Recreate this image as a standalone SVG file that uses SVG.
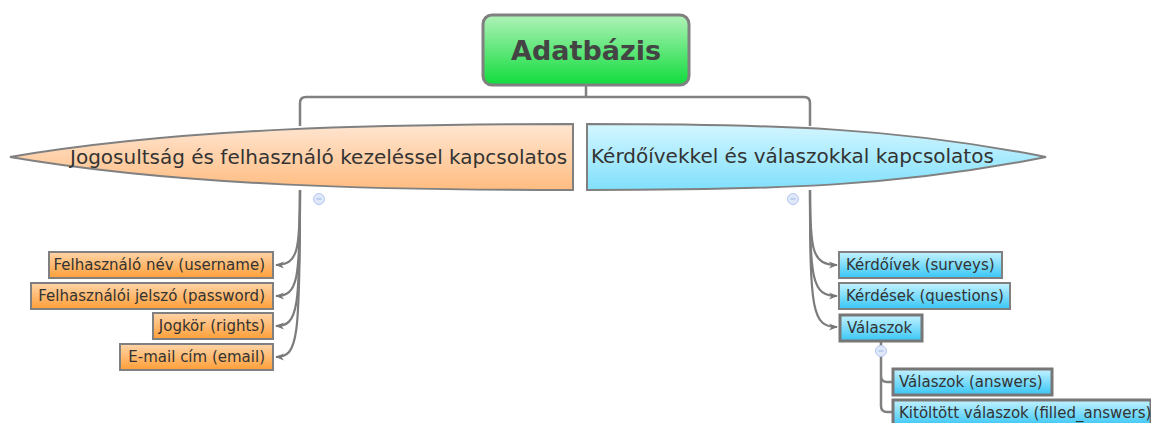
<svg xmlns="http://www.w3.org/2000/svg" width="1151" height="423" viewBox="0 0 1151 423">
<defs>
<linearGradient id="gRoot" x1="0" y1="0" x2="0" y2="1"><stop offset="0" stop-color="#b0f2b8"/><stop offset="1" stop-color="#10dc3c"/></linearGradient>
<linearGradient id="gOrL" x1="0" y1="0" x2="0" y2="1"><stop offset="0" stop-color="#ffe6d2"/><stop offset="1" stop-color="#ffbc80"/></linearGradient>
<linearGradient id="gBlL" x1="0" y1="0" x2="0" y2="1"><stop offset="0" stop-color="#d4f6ff"/><stop offset="1" stop-color="#80e0fc"/></linearGradient>
<linearGradient id="gOr" x1="0" y1="0" x2="0" y2="1"><stop offset="0" stop-color="#ffd4a8"/><stop offset="1" stop-color="#ff9f38"/></linearGradient>
<linearGradient id="gBl" x1="0" y1="0" x2="0" y2="1"><stop offset="0" stop-color="#c4f2ff"/><stop offset="1" stop-color="#38c6f6"/></linearGradient>
<marker id="arr" viewBox="0 0 10 10" refX="9" refY="5" markerWidth="9" markerHeight="9" orient="auto" markerUnits="userSpaceOnUse"><path d="M0,1 L10,5 L0,9 L3,5 Z" fill="#777"/></marker>
</defs>
<style>
text{font-family:"DejaVu Sans","Liberation Sans",sans-serif;fill:#333}
.conn{fill:none;stroke:#808080;stroke-width:2.5}
.thin{fill:none;stroke:#7c7c7c;stroke-width:2.2}
.box{stroke:#808080;stroke-width:2}
.sel{stroke:#777;stroke-width:3}
.leaf{font-size:15px}
.mid{font-size:20px}
.tog{fill:#dfe8fb;stroke:#b4c8f0;stroke-width:1}
.togm{stroke:#9bb2e0;stroke-width:1}
</style>
<g id="connectors">
<path class="conn" d="M586,85 V97 M306,97 H804 Q810,97 810,103 V126 M306,97 Q300,97 300,103 V126"/>
<path class="thin" marker-end="url(#arr)" d="M300,190 C300,250 298,265 276,265"/>
<path class="thin" marker-end="url(#arr)" d="M300,190 C300,280 298,296 276,296"/>
<path class="thin" marker-end="url(#arr)" d="M300,190 C300,310 298,326 276,326"/>
<path class="thin" marker-end="url(#arr)" d="M300,190 C300,340 298,357 276,357"/>
<path class="thin" marker-end="url(#arr)" d="M810,190 C810,250 812,265 837,265"/>
<path class="thin" marker-end="url(#arr)" d="M810,190 C810,280 812,296 837,296"/>
<path class="thin" marker-end="url(#arr)" d="M810,190 C810,310 812,327 837,327"/>
<path class="conn" d="M881,342 V406 Q881,412 887,412 H893 M881,376 Q881,382 887,382 H893"/>
</g>
<g id="root">
<rect x="483" y="15" width="206" height="70" rx="9" fill="url(#gRoot)" stroke="#808080" stroke-width="3"/>
<text x="586" y="60" text-anchor="middle" font-size="27" font-weight="bold" style="fill:#444">Adatbázis</text>
</g>
<g id="n-jog">
<path class="box" fill="url(#gOrL)" d="M10,157 C180,128 380,124 573,124 L573,190 C380,190 180,186 10,157 Z"/>
<text class="mid" x="70" y="164">Jogosultság és felhasználó kezeléssel kapcsolatos</text>
<circle class="tog" cx="319" cy="199" r="5.5"/><path class="togm" d="M316.5,199 H321.5"/>
</g>
<g id="n-kerd">
<path class="box" fill="url(#gBlL)" d="M587,124 C780,124 900,128 1046,157 C900,186 780,190 587,190 Z"/>
<text class="mid" x="591" y="163">Kérdőívekkel és válaszokkal kapcsolatos</text>
<circle class="tog" cx="793" cy="199" r="5.5"/><path class="togm" d="M790.5,199 H795.5"/>
</g>
<g id="n-username">
<rect class="box" x="49" y="252" width="224" height="26" fill="url(#gOr)"/>
<text class="leaf" x="265" y="270" text-anchor="end">Felhasználó név (username)</text>
</g>
<g id="n-password">
<rect class="box" x="31" y="283" width="242" height="26" fill="url(#gOr)"/>
<text class="leaf" x="265" y="301" text-anchor="end">Felhasználói jelszó (password)</text>
</g>
<g id="n-rights">
<rect class="box" x="153" y="313" width="120" height="26" fill="url(#gOr)"/>
<text class="leaf" x="265" y="331" text-anchor="end">Jogkör (rights)</text>
</g>
<g id="n-email">
<rect class="box" x="120" y="344" width="153" height="26" fill="url(#gOr)"/>
<text class="leaf" x="265" y="362" text-anchor="end">E-mail cím (email)</text>
</g>
<g id="n-surveys">
<rect class="box" x="839" y="252" width="163" height="26" fill="url(#gBl)"/>
<text class="leaf" x="846" y="270">Kérdőívek (surveys)</text>
</g>
<g id="n-questions">
<rect class="box" x="839" y="283" width="171" height="26" fill="url(#gBl)"/>
<text class="leaf" x="846" y="301">Kérdések (questions)</text>
</g>
<g id="n-valaszok">
<rect class="sel" x="840" y="315" width="82" height="26" fill="url(#gBl)"/>
<text class="leaf" x="847" y="333">Válaszok</text>
<circle class="tog" cx="881" cy="351" r="5.5"/><path class="togm" d="M878.5,351 H883.5"/>
</g>
<g id="n-answers">
<rect class="sel" x="893" y="369" width="159" height="26" fill="url(#gBl)"/>
<text class="leaf" x="899" y="387">Válaszok (answers)</text>
</g>
<g id="n-filled">
<rect class="sel" x="893" y="400" width="258" height="26" fill="url(#gBl)"/>
<text class="leaf" x="899" y="418">Kitöltött válaszok (filled_answers)</text>
</g>
</svg>
